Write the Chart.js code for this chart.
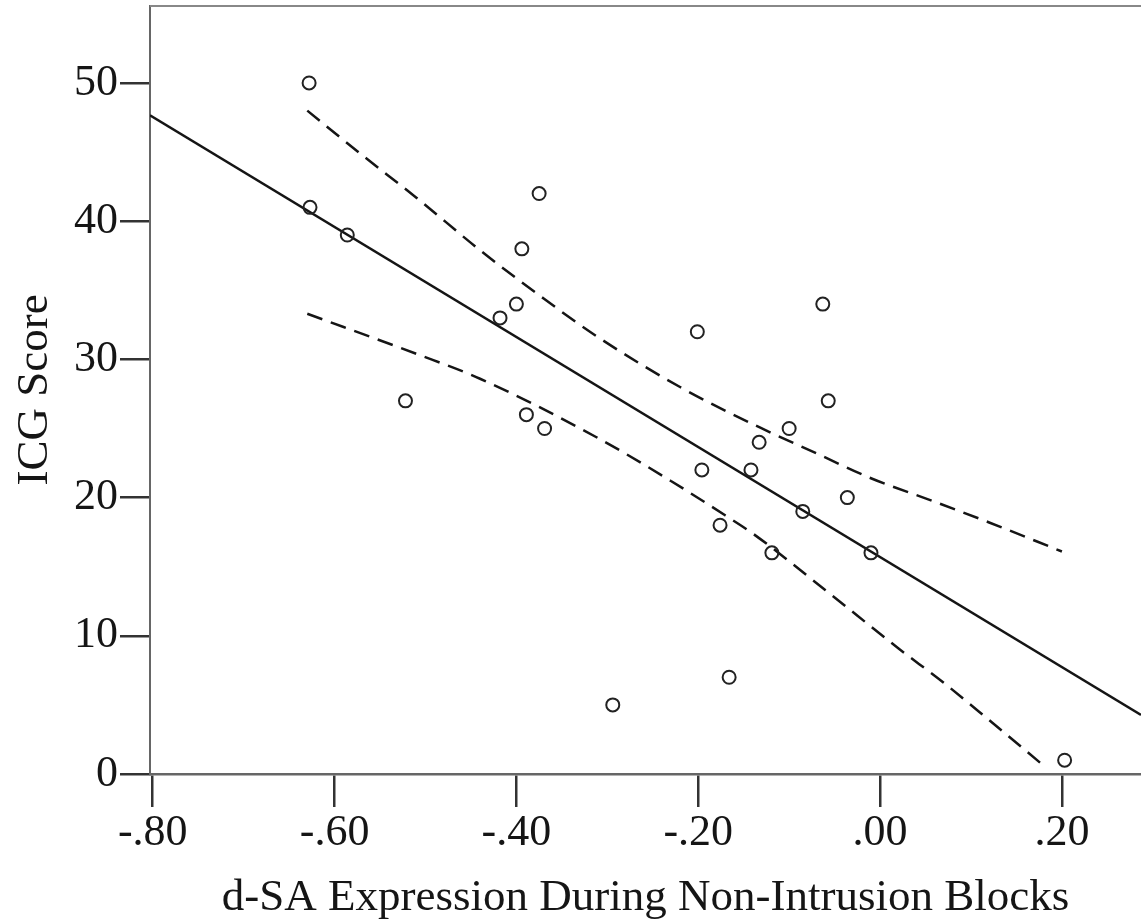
<!DOCTYPE html>
<html>
<head>
<meta charset="utf-8">
<script src="https://cdn.jsdelivr.net/npm/chart.js@4"></script>
<style>
  body { margin: 0; background: #fff; }
  #chart { display: block; }
</style>
</head>
<body>
<canvas id="chart" width="1141" height="922"></canvas>
<script>
// ===== DATA =====
const pointX = [-0.628, -0.627, -0.586, -0.522, -0.418, -0.400, -0.394, -0.375, -0.389, -0.369,
  -0.294, -0.201, -0.196, -0.176, -0.166, -0.142, -0.133, -0.119, -0.100, -0.085,
  -0.063, -0.057, -0.036, -0.010, 0.203];
const pointY = [50, 41, 39, 27, 33, 34, 38, 42, 26, 25,
  5, 32, 22, 18, 7, 22, 24, 16, 25, 19,
  34, 27, 20, 16, 1];

// fit line (read at the plot edges)
const fitX = [-0.803, 0.287];
const fitY = [47.66, 4.28];

// confidence band
const upperX = [-0.63, -0.57, -0.51, -0.44, -0.37, -0.31, -0.22, -0.13, -0.07, -0.01, 0.06, 0.12, 0.20];
const upperY = [48.0, 44.8, 41.7, 37.9, 34.4, 31.6, 28.0, 25.0, 23.2, 21.4, 19.7, 18.2, 16.1];
const lowerX = [-0.63, -0.51, -0.44, -0.31, -0.23, -0.17, -0.14, -0.06, 0.02, 0.07, 0.12, 0.18];
const lowerY = [33.3, 30.4, 28.6, 24.3, 21.2, 18.7, 17.4, 13.3, 9.1, 6.6, 3.9, 0.6];

const xTicks = [-0.8, -0.6, -0.4, -0.2, 0, 0.2];
const xTickLabels = ['-.80', '-.60', '-.40', '-.20', '.00', '.20'];
const yTicks = [0, 10, 20, 30, 40, 50];

const xTitle = 'd-SA Expression During Non-Intrusion Blocks';
const yTitle = 'ICG Score';

// ===== HELPERS =====
const toPoints = (xs, ys) => xs.map((x, i) => ({ x: x, y: ys[i] }));

const FONT = '"Liberation Serif", "Times New Roman", serif';
const INK = '#151515';

// top edge of the plot box
const topBorder = {
  id: 'topBorder',
  afterDraw(chart) {
    const a = chart.chartArea;
    const c = chart.ctx;
    c.save();
    c.strokeStyle = '#888';
    c.lineWidth = 2;
    c.beginPath();
    c.moveTo(a.left, a.top);
    c.lineTo(a.right, a.top);
    c.stroke();
    c.restore();
  }
};

const band = (xs, ys) => ({
  data: toPoints(xs, ys),
  showLine: true,
  borderColor: INK,
  borderWidth: 2.5,
  borderDash: [16, 9],
  cubicInterpolationMode: 'monotone',
  pointRadius: 0
});

// ===== CHART =====
const ctx = document.getElementById('chart');

new Chart(ctx, {
  type: 'scatter',
  data: {
    datasets: [
      {
        data: toPoints(pointX, pointY),
        pointStyle: 'circle',
        pointRadius: 6.5,
        pointBorderWidth: 2,
        pointBorderColor: '#222',
        pointBackgroundColor: 'rgba(0,0,0,0)',
        showLine: false
      },
      {
        data: toPoints(fitX, fitY),
        showLine: true,
        borderColor: INK,
        borderWidth: 2.4,
        pointRadius: 0
      },
      band(upperX, upperY),
      band(lowerX, lowerY)
    ]
  },
  options: {
    responsive: false,
    animation: false,
    devicePixelRatio: 1,
    layout: { autoPadding: false, padding: { top: 6, right: 0, left: 0, bottom: 0 } },
    plugins: {
      legend: { display: false },
      tooltip: { enabled: false }
    },
    scales: {
      x: {
        type: 'linear',
        min: -0.803,
        max: 0.287,
        afterBuildTicks: (s) => { s.ticks = xTicks.map(v => ({ value: v })); },
        afterFit: (s) => { s.height = 148; s.paddingLeft = 0; s.paddingRight = 0; },
        ticks: {
          color: INK,
          font: { family: FONT, size: 44 },
          padding: 0,
          maxRotation: 0,
          autoSkip: false,
          callback: (v, i) => xTickLabels[i]
        },
        grid: {
          drawOnChartArea: false,
          tickLength: 33,
          tickColor: '#333',
          lineWidth: 2.5
        },
        border: { display: true, color: '#666', width: 2.5 },
        title: {
          display: true,
          text: xTitle,
          color: INK,
          font: { family: FONT, size: 45, lineHeight: 1 },
          padding: { top: 0, bottom: 1 }
        }
      },
      y: {
        type: 'linear',
        min: 0,
        max: 55.57,
        afterBuildTicks: (s) => { s.ticks = yTicks.map(v => ({ value: v })); },
        afterFit: (s) => { s.width = 150; s.paddingTop = 0; s.paddingBottom = 0; },
        ticks: {
          color: INK,
          font: { family: FONT, size: 44 },
          padding: 2,
          autoSkip: false
        },
        grid: {
          drawOnChartArea: false,
          tickLength: 30,
          tickColor: '#333',
          lineWidth: 2.5
        },
        border: { display: true, color: '#666', width: 2 },
        title: {
          display: true,
          text: yTitle,
          color: INK,
          font: { family: FONT, size: 45, lineHeight: 1 },
          padding: { top: 13, bottom: 0 }
        }
      }
    }
  },
  plugins: [topBorder]
});
</script>
</body>
</html>
